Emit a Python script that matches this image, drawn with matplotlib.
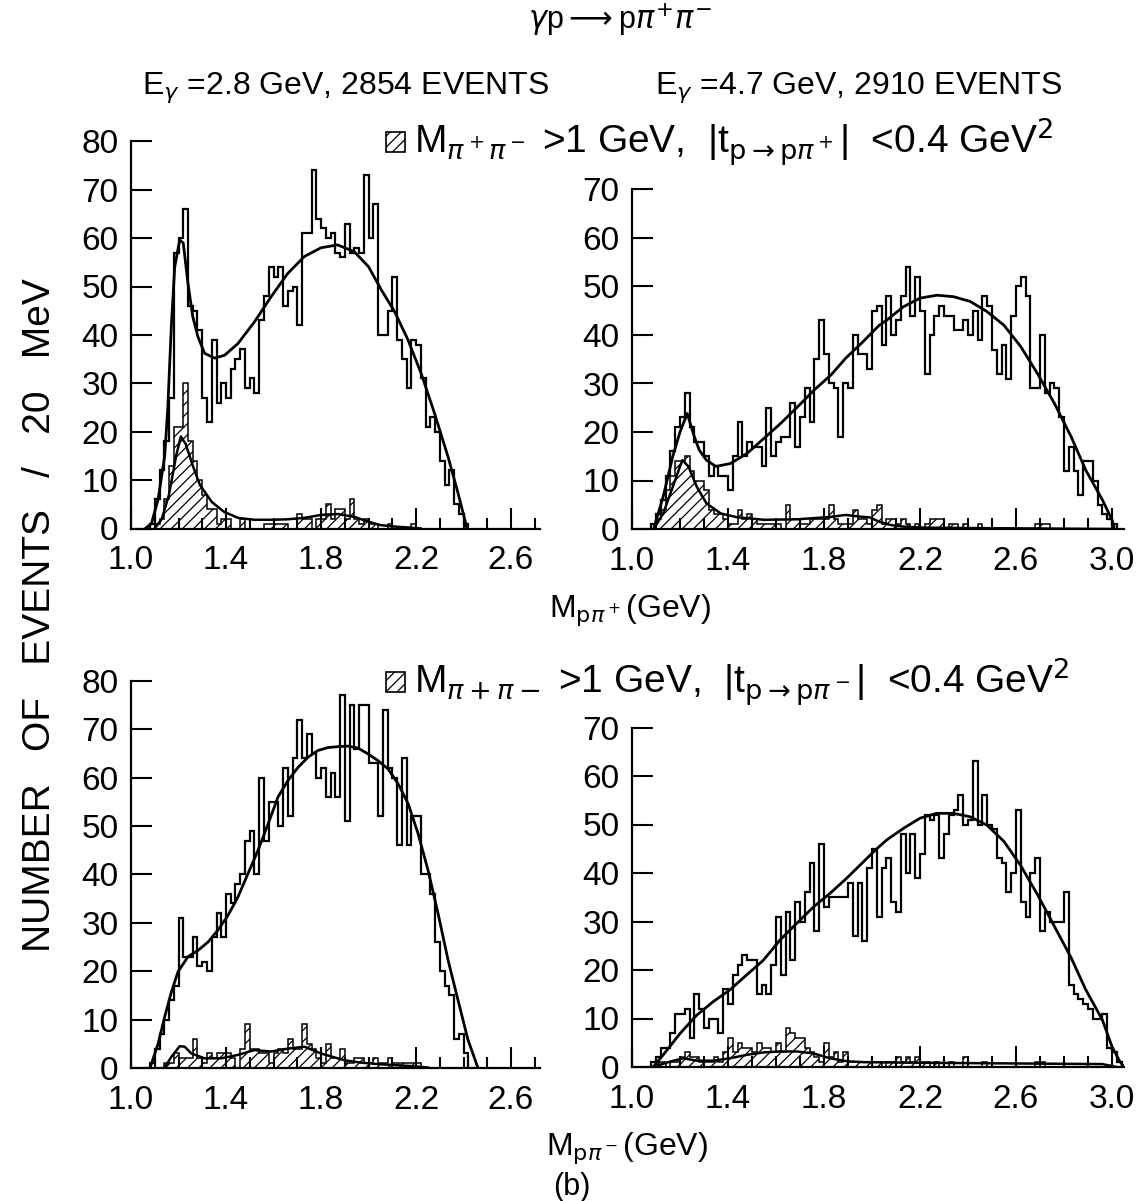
import numpy as np
import matplotlib
matplotlib.use("Agg")
import matplotlib.pyplot as plt
from matplotlib import font_manager
from matplotlib.patches import Rectangle
from matplotlib.ticker import FormatStrFormatter

# data: events per 20 MeV bin, first bin starts at 1.08 GeV
bin0 = 1.08
bw = 0.02

# top left: E=2.8 GeV, M(p pi+)
tl_all = [1, 6, 12, 18, 27, 57, 60, 66, 46, 45,
          41, 27, 22, 39, 26, 30, 27, 33, 35, 37,
          29, 31, 28, 43, 48, 54, 52, 54, 46, 49,
          50, 42, 61, 61, 74, 64, 62, 60, 61, 57,
          56, 63, 57, 58, 57, 73, 60, 67, 40, 40,
          45, 52, 39, 35, 29, 39, 38, 31, 21, 23,
          20, 14, 9, 12, 5, 3, 1]
tl_cut = [0, 1, 2, 6, 13, 21, 21, 30, 18, 14,
          10, 7, 4, 4, 1, 2, 2, 0, 0, 2,
          0, 0, 0, 0, 1, 1, 1, 1, 1, 0,
          0, 3, 2, 2, 0, 2, 2, 5, 2, 4,
          4, 2, 6, 2, 1, 2, 1, 1, 0, 0,
          1, 0, 0, 0, 0, 1, 0, 0, 0, 0,
          0, 0, 0, 0, 0, 0, 0]
tl_fit_x = [1.06, 1.086, 1.114, 1.142, 1.155, 1.17, 1.184, 1.205, 1.22, 1.24,
            1.26, 1.282, 1.31, 1.352, 1.394, 1.45, 1.52, 1.59, 1.66, 1.73,
            1.80, 1.87, 1.94, 2.00, 2.054, 2.11, 2.166, 2.222, 2.278, 2.335,
            2.377, 2.415]
tl_fit_y = [0, 1, 6, 15, 25, 42, 54, 59.6, 59, 50.6,
            43.8, 39.6, 36.2, 35.2, 35.8, 38.2, 42.7, 47.9, 52.7, 56.2,
            58, 58.6, 57.2, 54.1, 49.3, 44.8, 39, 32, 23.8, 14.8,
            7.3, 0]
tl_sub_x = [1.10, 1.13, 1.16, 1.19, 1.21, 1.23, 1.26, 1.29, 1.34, 1.39,
            1.45, 1.52, 1.59, 1.66, 1.73, 1.80, 1.87, 1.94, 2.00, 2.05,
            2.11, 2.17, 2.22]
tl_sub_y = [0, 2, 7, 15, 19, 17.5, 13, 9, 5.5, 3.5,
            2.2, 1.8, 1.8, 1.9, 2.2, 2.8, 3.0, 2.4, 1.4, 0.7,
            0.4, 0.2, 0]

# top right: E=4.7 GeV, M(p pi+)
tr_all = [1, 3, 6, 11, 16, 21, 23, 28, 21, 18,
          18, 15, 11, 13, 11, 11, 8, 15, 22, 15,
          18, 17, 17, 13, 25, 15, 18, 19, 19, 26,
          17, 23, 29, 22, 35, 43, 36, 30, 29, 19,
          30, 29, 40, 36, 36, 33, 45, 46, 38, 48,
          40, 43, 48, 54, 44, 52, 45, 32, 40, 44,
          46, 44, 44, 41, 41, 43, 40, 45, 39, 48,
          46, 37, 32, 38, 31, 44, 50, 52, 48, 29,
          29, 40, 28, 30, 29, 23, 12, 17, 12, 7,
          14, 14, 10, 5, 3, 2, 1]
tr_cut = [0, 2, 4, 8, 11, 14, 14, 15, 12, 10,
          10, 8, 4, 3, 3, 2, 1, 1, 4, 2,
          3, 2, 1, 1, 1, 1, 1, 0, 5, 2,
          2, 1, 1, 2, 2, 2, 2, 5, 2, 1,
          1, 1, 4, 2, 2, 1, 4, 5, 1, 2,
          2, 1, 2, 1, 0, 1, 0, 1, 2, 2,
          2, 0, 1, 1, 0, 1, 0, 0, 1, 0,
          0, 0, 0, 0, 0, 0, 0, 0, 0, 0,
          1, 1, 1, 0, 0, 0, 0, 0, 0, 0,
          0, 0, 0, 0, 0, 0, 0]
tr_fit_x = [1.09, 1.13, 1.17, 1.20, 1.23, 1.26, 1.28, 1.31, 1.35, 1.41,
            1.48, 1.55, 1.62, 1.69, 1.76, 1.83, 1.89, 1.96, 2.03, 2.06,
            2.13, 2.20, 2.27, 2.34, 2.41, 2.48, 2.55, 2.62, 2.69, 2.76,
            2.83, 2.89, 2.96, 3.00, 3.01]
tr_fit_y = [0, 6.7, 15, 20, 23.8, 19, 16.3, 14.2, 12.9, 13.5,
            15.6, 18.7, 21.8, 25.2, 28.7, 31.8, 35.2, 38.5, 42, 43,
            45.8, 47.6, 48.2, 47.9, 46.9, 44.8, 42, 37.6, 32, 25.9,
            19, 12.2, 6, 1.9, 0]
tr_sub_x = [1.09, 1.13, 1.17, 1.20, 1.21, 1.235, 1.27, 1.31, 1.37, 1.44,
            1.55, 1.69, 1.83, 1.89, 1.96, 1.99, 2.03, 2.08, 2.13, 2.20,
            2.40, 2.70, 3.00]
tr_sub_y = [0, 3.2, 8.7, 12.9, 14.2, 12.9, 8.7, 5.3, 3.2, 2.4,
            1.9, 2.0, 2.5, 2.9, 2.5, 2.4, 1.5, 0.8, 0.5, 0.3,
            0.2, 0.1, 0]

# bottom left: E=2.8 GeV, M(p pi-)
bl_all = [1, 4, 7, 10, 14, 17, 31, 23, 23, 27,
          21, 22, 20, 27, 32, 27, 36, 34, 38, 40,
          47, 49, 40, 60, 47, 55, 55, 50, 62, 52,
          64, 72, 64, 69, 65, 60, 62, 56, 61, 56,
          77, 51, 75, 66, 75, 75, 63, 63, 52, 74,
          62, 60, 46, 64, 46, 52, 52, 40, 40, 36,
          26, 20, 17, 15, 6, 7, 3]
bl_cut = [0, 0, 0, 1, 1, 3, 2, 2, 2, 6,
          2, 1, 3, 2, 3, 3, 3, 2, 0, 4,
          9, 4, 4, 3, 3, 1, 3, 4, 3, 6,
          4, 4, 9, 5, 4, 2, 1, 5, 2, 2,
          4, 1, 1, 2, 2, 1, 1, 2, 1, 1,
          2, 1, 1, 1, 1, 1, 1, 0, 0, 0,
          0, 0, 0, 0, 0, 0, 0]
bl_fit_x = [1.08, 1.114, 1.142, 1.17, 1.198, 1.24, 1.282, 1.324, 1.366, 1.408,
            1.45, 1.492, 1.535, 1.577, 1.619, 1.661, 1.703, 1.745, 1.787, 1.829,
            1.871, 1.914, 1.956, 1.998, 2.04, 2.082, 2.125, 2.167, 2.209, 2.251,
            2.293, 2.335, 2.377, 2.419, 2.461]
bl_fit_y = [0, 5, 10.6, 15.7, 19.9, 23, 24.3, 26, 28.5, 31.5,
            35.3, 40.1, 45, 50.4, 56, 59.4, 62.1, 64.2, 65.6, 66.2,
            66.4, 66.5, 66.1, 64.9, 63.5, 61.8, 58.7, 54.6, 48.4, 40.8,
            31.9, 22.3, 14, 5.8, 0]
bl_sub_x = [1.14, 1.17, 1.205, 1.226, 1.254, 1.31, 1.38, 1.45, 1.52, 1.59,
            1.66, 1.73, 1.80, 1.87, 1.90, 1.97, 2.04, 2.11, 2.18, 2.25]
bl_sub_y = [0, 2.3, 4.5, 4.4, 3, 2, 2, 2.7, 3.7, 3.4,
            4, 4.4, 3, 2, 1.6, 1.1, 0.8, 0.6, 0.4, 0.1]

# bottom right: E=4.7 GeV, M(p pi-)
br_all = [1, 2, 4, 4, 7, 11, 11, 12, 6, 15,
          12, 8, 10, 10, 7, 16, 13, 19, 21, 23,
          22, 22, 15, 17, 15, 21, 31, 19, 32, 22,
          34, 30, 36, 42, 28, 46, 33, 35, 35, 35,
          35, 38, 27, 38, 26, 41, 45, 31, 41, 43,
          34, 32, 48, 40, 48, 39, 44, 52, 51, 52,
          43, 48, 52, 53, 56, 50, 51, 63, 50, 56,
          50, 49, 43, 42, 36, 40, 53, 34, 31, 40,
          43, 28, 32, 30, 30, 30, 36, 17, 15, 14,
          13, 12, 10, 10, 11, 4, 3, 1]
br_cut = [0, 1, 1, 0, 1, 1, 2, 3, 2, 2,
          1, 1, 1, 2, 1, 3, 6, 3, 5, 4,
          4, 3, 5, 4, 4, 3, 5, 3, 8, 7,
          6, 6, 4, 3, 2, 1, 5, 2, 3, 1,
          3, 1, 1, 1, 1, 1, 1, 1, 0, 1,
          1, 2, 1, 2, 1, 2, 1, 1, 0, 1,
          0, 0, 1, 0, 0, 2, 0, 0, 0, 1,
          0, 0, 0, 0, 0, 0, 0, 0, 0, 0,
          1, 1, 0, 0, 0, 0, 0, 0, 0, 0,
          0, 0, 0, 0, 0, 0, 0, 0]
br_fit_x = [1.088, 1.13, 1.20, 1.27, 1.339, 1.408, 1.478, 1.547, 1.617, 1.686,
            1.756, 1.825, 1.894, 1.964, 2.02, 2.061, 2.131, 2.20, 2.269, 2.339,
            2.408, 2.478, 2.55, 2.62, 2.69, 2.76, 2.83, 2.89, 2.96, 3.00,
            3.033, 3.05]
br_fit_y = [0, 2.5, 6.9, 10.7, 13.5, 15.9, 19, 22, 26.2, 29.6,
            33, 35.8, 38.9, 42.3, 45, 46.8, 49.2, 51.3, 52.3, 52.3,
            51.6, 49.9, 46.5, 41.5, 35.5, 29, 22.5, 16, 9.7, 4.2,
            1.1, 0]
br_sub_x = [1.088, 1.158, 1.214, 1.27, 1.339, 1.408, 1.478, 1.547, 1.617, 1.686,
            1.756, 1.825, 1.894, 1.964, 2.131, 2.96, 3.02]
br_sub_y = [0, 1.1, 1.8, 1.3, 1.3, 1.8, 2.5, 3, 3.2, 3.2,
            2.8, 1.8, 1.2, 1, 0.9, 0.6, 0]

# fonts
names = {f.name for f in font_manager.fontManager.ttflist}
family = next(n for n in ["Liberation Sans Narrow", "Liberation Sans", "DejaVu Sans"] if n in names)
plt.rcParams["font.family"] = [family, "DejaVu Sans"]
plt.rcParams["hatch.linewidth"] = 0.9

W, H = 1146, 1201
fig = plt.figure(figsize=(W / 100, H / 100), dpi=100)


def px_rect(x0, x1, y_top, y_bot):
    return [x0 / W, 1 - y_bot / H, (x1 - x0) / W, (y_bot - y_top) / H]


def panel(rect, xmax, ymax, counts, cut, fx, fy, sx, sy):
    ax = fig.add_axes(rect)
    edges = bin0 + bw * np.arange(len(counts) + 1)
    ax.stairs(cut, edges[:len(cut) + 1], fill=True, hatch="///",
              facecolor="none", edgecolor="black", linewidth=1.1)
    ax.stairs(counts, edges, color="black", linewidth=1.6)
    ax.plot(fx, fy, color="black", lw=2.0)
    ax.plot(sx, sy, color="black", lw=1.8)
    ax.set_xlim(1.0, xmax)
    ax.set_ylim(0, ymax)
    for s in ["top", "right"]:
        ax.spines[s].set_visible(False)
    for s in ["left", "bottom"]:
        ax.spines[s].set_linewidth(1.6)
    ax.set_xticks(np.arange(1.0, xmax + 1e-6, 0.4))
    ax.set_xticks(np.arange(1.0, xmax + 1e-6, 0.1), minor=True)
    ax.xaxis.set_major_formatter(FormatStrFormatter("%.1f"))
    ax.set_yticks(np.arange(0, ymax + 1, 10))
    ax.tick_params(which="major", direction="in", length=15, width=1.5,
                   labelsize=24)
    ax.tick_params(axis="x", which="major", pad=12)
    ax.tick_params(axis="y", which="major", pad=9)
    ax.tick_params(which="minor", direction="in", length=8, width=1.5)
    return ax


panel(px_rect(131, 539.5, 141.3, 528.5), 2.72, 80,
      tl_all, tl_cut, tl_fit_x, tl_fit_y, tl_sub_x, tl_sub_y)
panel(px_rect(632, 1124, 189.5, 529), 3.05, 70,
      tr_all, tr_cut, tr_fit_x, tr_fit_y, tr_sub_x, tr_sub_y)
panel(px_rect(131, 539.5, 680.8, 1068), 2.72, 80,
      bl_all, bl_cut, bl_fit_x, bl_fit_y, bl_sub_x, bl_sub_y)
panel(px_rect(632, 1124, 727.5, 1067), 3.05, 70,
      br_all, br_cut, br_fit_x, br_fit_y, br_sub_x, br_sub_y)


def ftext(x, y, s, **kw):
    fig.text(x / W, 1 - y / H, s, **kw)


ftext(620, 20, r"$\gamma$p$\longrightarrow$p$\pi^{+}\pi^{-}$", ha="center", va="center", fontsize=22)
ftext(346, 88, r"E$_\gamma$ =2.8 GeV, 2854 EVENTS", ha="center", va="center", fontsize=23)
ftext(859, 88, r"E$_\gamma$ =4.7 GeV, 2910 EVENTS", ha="center", va="center", fontsize=23)

for y_c, txt in [(142, r"M$_{\pi^+\pi^-}$ >1 GeV,  |t$_{\mathrm{p}\rightarrow\mathrm{p}\pi^+}$|  <0.4 GeV$^2$"),
                 (682, r"M$_{\pi+\pi-}$ >1 GeV,  |t$_{\mathrm{p}\rightarrow\mathrm{p}\pi^-}$|  <0.4 GeV$^2$")]:
    fig.add_artist(Rectangle((386 / W, 1 - (y_c + 10) / H), 19 / W, 20 / H,
                             transform=fig.transFigure, facecolor="none",
                             edgecolor="black", hatch="///", lw=1.2))
    ftext(414, y_c, txt, ha="left", va="center", fontsize=28)

ftext(630, 610, r"M$_{\mathrm{p}\pi^+}$(GeV)", ha="center", va="center", fontsize=23)
ftext(627, 1148, r"M$_{\mathrm{p}\pi^-}$(GeV)", ha="center", va="center", fontsize=23)
ftext(572, 1187, "(b)", ha="center", va="center", fontsize=22)
ftext(40, 615, "NUMBER   OF   EVENTS   /   20   MeV", rotation=90, ha="center", va="center", fontsize=28)

fig.savefig("out.png", dpi=100, facecolor="white")
